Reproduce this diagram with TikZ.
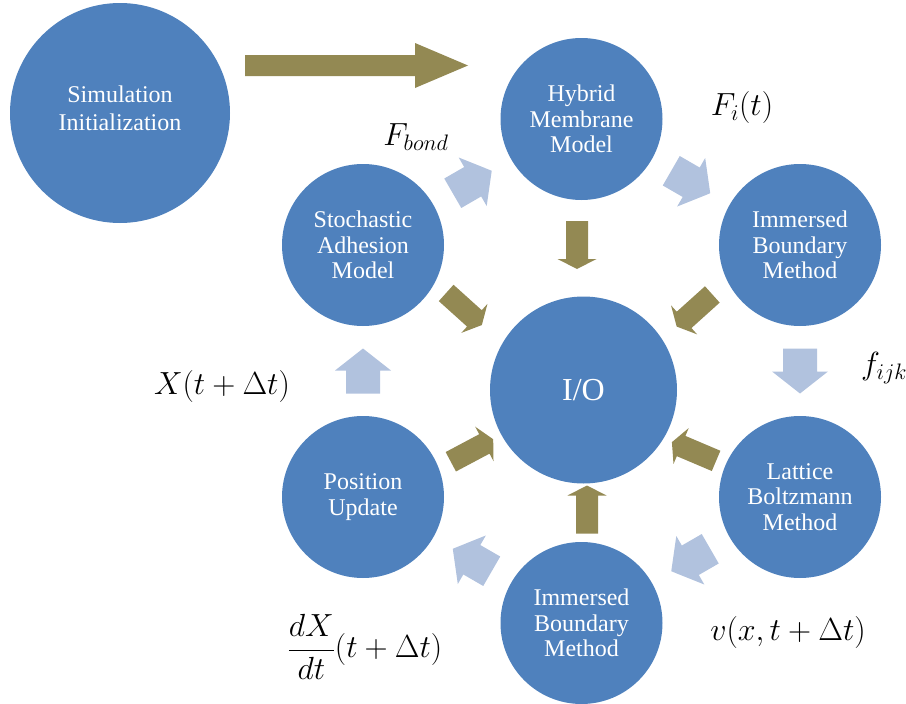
\RequirePackage{fix-cm}
\documentclass[tikz,border=0pt]{standalone}
\usepackage{fontspec}
\setmainfont{Liberation Serif}
\usetikzlibrary{calc}
\definecolor{cblue}{RGB}{79,129,189}
\definecolor{colive}{RGB}{147,137,83}
\definecolor{clight}{RGB}{177,194,222}
\begin{document}
\begin{tikzpicture}[x=1pt,y=1pt,
  circ/.style={circle,fill=cblue,draw=none,text=white,inner sep=0pt,align=center,
    minimum size=162,font=\fontsize{24}{25.5}\selectfont},
  lbl/.style={inner sep=0pt,font=\fontsize{32}{34}\selectfont},
  olivearrow/.pic={\fill[colive] (-24,-11) -- (14,-11) -- (14,-19.5) -- (24,0) -- (14,19.5) -- (14,11) -- (-24,11) -- cycle;},
  lightarrow/.pic={\fill[clight] (-22.5,-17) -- (0.5,-17) -- (0.5,-28) -- (22.5,0) -- (0.5,28) -- (0.5,17) -- (-22.5,17) -- cycle;}
]
\useasboundingbox (0,0) rectangle (906,-704);
% circles
\node[circ,minimum size=220,text depth=10,font=\fontsize{24}{28}\selectfont] (init) at (120,-113) {Simulation\\Initialization};
\node[circ] (hyb) at (581.5,-119) {Hybrid\\Membrane\\Model};
\node[circ] (ib1) at (800,-245) {Immersed\\Boundary\\Method};
\node[circ] (lbm) at (800,-497) {Lattice\\Boltzmann\\Method};
\node[circ] (ib2) at (581.5,-623) {Immersed\\Boundary\\Method};
\node[circ] (pos) at (363,-497) {Position\\Update};
\node[circ] (sam) at (363,-245) {Stochastic\\Adhesion\\Model};
\node[circ,minimum size=187,font=\fontsize{32}{36}\selectfont] (io) at (583.5,-390) {I/O};
% big arrow
\coordinate (bigA) at (245,-65.5);
\fill[colive] (bigA) ++(0,10.5) -- ++(170,0) -- ++(0,12) -- ++(53,-22.5) -- ++(-53,-22.5) -- ++(0,12) -- ++(-170,0) -- cycle;
% light cycle arrows
\pic[rotate=30] at ($(sam)!.5!(hyb)$) {lightarrow};
\pic[rotate=-30] at ($(hyb)!.5!(ib1)$) {lightarrow};
\pic[rotate=-90] at ($(ib1)!.5!(lbm)$) {lightarrow};
\pic[rotate=210] at ($(lbm)!.5!(ib2)$) {lightarrow};
\pic[rotate=150] at ($(ib2)!.5!(pos)$) {lightarrow};
\pic[rotate=90] at ($(pos)!.5!(sam)$) {lightarrow};
% olive arrows to I/O
\pic[rotate=-90] at (577,-245) {olivearrow};
\pic[rotate=222] at (694.5,-310.5) {olivearrow};
\pic[rotate=157] at (694,-451.5) {olivearrow};
\pic[rotate=90] at (587,-509.5) {olivearrow};
\pic[rotate=28] at (472,-450.5) {olivearrow};
\pic[rotate=-42] at (464,-309) {olivearrow};
% labels
\node[lbl] (fb) at (416,-137) {$F_{bond}$};
\node[lbl] (fi) at (742,-108) {$F_i(t)$};
\node[lbl,anchor=west] (fijk) at (861,-368) {$f_{ijk}$};
\node[lbl] (xt) at (222,-386) {$X(t+\Delta t)$};
\node[lbl] (vx) at (788,-632) {$v(x,t+\Delta t)$};
\node[lbl] (dxdt) at (365,-647) {$\displaystyle\frac{dX}{dt}(t+\Delta t)$};
\end{tikzpicture}
\end{document}
